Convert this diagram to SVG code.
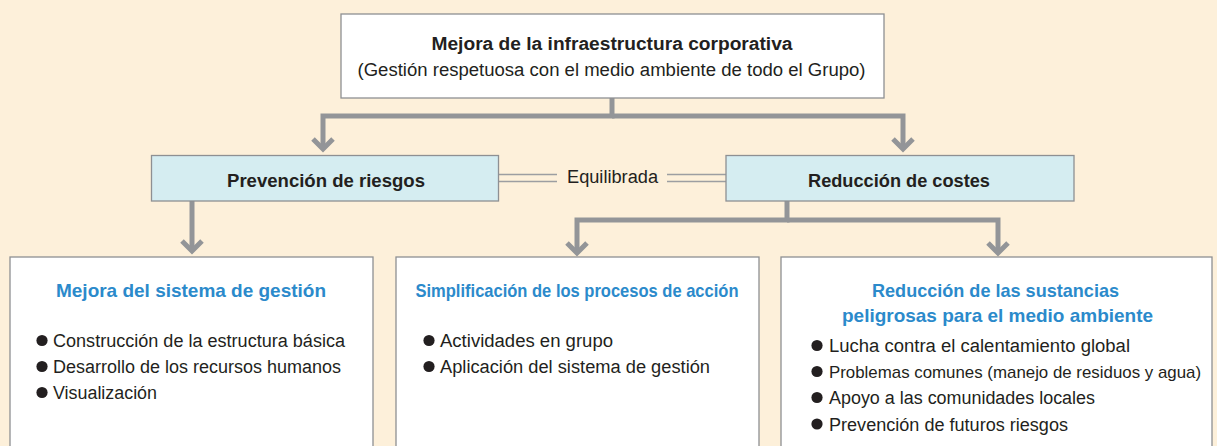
<svg xmlns="http://www.w3.org/2000/svg" width="1217" height="446" viewBox="0 0 1217 446">
<style>
.box{fill:#ffffff;stroke:#8e9093;stroke-width:1.3}
.mid{fill:#d5edf1;stroke:#8e9093;stroke-width:1.3}
.t{font-family:"Liberation Sans",Arial,sans-serif;font-size:18px;fill:#231f20}
.b{font-weight:bold}
.ttl{font-family:"Liberation Sans",Arial,sans-serif;font-size:19px;font-weight:bold;fill:#2b8acb}
.c{text-anchor:middle}
.dot{fill:#231f20}
.conn{fill:none;stroke:#939598;stroke-width:5;stroke-linejoin:miter}
.dbl{stroke:#9c9ea1;stroke-width:1.5}
</style>
<defs>
<marker id="chev" markerUnits="userSpaceOnUse" viewBox="-20 -20 30 40" markerWidth="30" markerHeight="40" refX="0" refY="0" orient="auto">
<path d="M-10,-10 L0,0 L-10,10" fill="none" stroke="#939598" stroke-width="5" stroke-linejoin="miter"/>
</marker>
</defs>
<rect x="0" y="0" width="1217" height="446" fill="#fdf0da"/>
<g id="connectors">
<path class="conn" d="M612,98 V116 H323 V149" marker-end="url(#chev)"/>
<path class="conn" d="M612,116 H903 V149" marker-end="url(#chev)"/>
<path class="conn" d="M192,201 V251" marker-end="url(#chev)"/>
<path class="conn" d="M787,201 V220 H577 V253" marker-end="url(#chev)"/>
<path class="conn" d="M787,220 H998 V253" marker-end="url(#chev)"/>
<line class="dbl" x1="499" y1="174.5" x2="557" y2="174.5"/>
<line class="dbl" x1="499" y1="181.5" x2="557" y2="181.5"/>
<line class="dbl" x1="667" y1="174.5" x2="726" y2="174.5"/>
<line class="dbl" x1="667" y1="181.5" x2="726" y2="181.5"/>
<text class="t" x="567" y="183" textLength="91" lengthAdjust="spacingAndGlyphs">Equilibrada</text>
</g>
<g id="node-top">
<rect class="box" x="341" y="14" width="543" height="84"/>
<text class="t b c" x="612" y="50" textLength="361" lengthAdjust="spacingAndGlyphs">Mejora de la infraestructura corporativa</text>
<text class="t c" x="611.5" y="76" textLength="508" lengthAdjust="spacingAndGlyphs">(Gestión respetuosa con el medio ambiente de todo el Grupo)</text>
</g>
<g id="node-prevencion">
<rect class="mid" x="151.5" y="155.5" width="347" height="45.5"/>
<text class="t b c" x="326" y="186.5" textLength="198" lengthAdjust="spacingAndGlyphs">Prevención de riesgos</text>
</g>
<g id="node-reduccion">
<rect class="mid" x="726" y="155.5" width="348" height="45.5"/>
<text class="t b c" x="899" y="186.5" textLength="182" lengthAdjust="spacingAndGlyphs">Reducción de costes</text>
</g>
<g id="node-gestion">
<rect class="box" x="10" y="257" width="363" height="200"/>
<text class="ttl c" x="191" y="297" textLength="270" lengthAdjust="spacingAndGlyphs">Mejora del sistema de gestión</text>
<circle class="dot" cx="42" cy="340.5" r="5.6"/>
<text class="t" x="53" y="347" textLength="292" lengthAdjust="spacingAndGlyphs">Construcción de la estructura básica</text>
<circle class="dot" cx="42" cy="366.5" r="5.6"/>
<text class="t" x="53" y="373" textLength="288" lengthAdjust="spacingAndGlyphs">Desarrollo de los recursos humanos</text>
<circle class="dot" cx="42" cy="392.5" r="5.6"/>
<text class="t" x="53" y="399" textLength="104" lengthAdjust="spacingAndGlyphs">Visualización</text>
</g>
<g id="node-simplificacion">
<rect class="box" x="396" y="257" width="363" height="200"/>
<text class="ttl c" x="577" y="297" textLength="323" lengthAdjust="spacingAndGlyphs">Simplificación de los procesos de acción</text>
<circle class="dot" cx="429" cy="340.5" r="5.6"/>
<text class="t" x="440" y="347" textLength="173" lengthAdjust="spacingAndGlyphs">Actividades en grupo</text>
<circle class="dot" cx="429" cy="366.5" r="5.6"/>
<text class="t" x="440" y="373" textLength="270" lengthAdjust="spacingAndGlyphs">Aplicación del sistema de gestión</text>
</g>
<g id="node-sustancias">
<rect class="box" x="781" y="257" width="431" height="200"/>
<text class="ttl c" x="995.5" y="297" textLength="247" lengthAdjust="spacingAndGlyphs">Reducción de las sustancias</text>
<text class="ttl c" x="997.5" y="322" textLength="311" lengthAdjust="spacingAndGlyphs">peligrosas para el medio ambiente</text>
<circle class="dot" cx="817" cy="345.5" r="5.6"/>
<text class="t" x="829" y="352" textLength="301" lengthAdjust="spacingAndGlyphs">Lucha contra el calentamiento global</text>
<circle class="dot" cx="817" cy="371.5" r="5.6"/>
<text class="t" x="829" y="378" font-size="17" style="font-size:17px" textLength="372" lengthAdjust="spacingAndGlyphs">Problemas comunes (manejo de residuos y agua)</text>
<circle class="dot" cx="817" cy="397.5" r="5.6"/>
<text class="t" x="829" y="404" textLength="266" lengthAdjust="spacingAndGlyphs">Apoyo a las comunidades locales</text>
<circle class="dot" cx="817" cy="424" r="5.6"/>
<text class="t" x="829" y="430.5" textLength="239" lengthAdjust="spacingAndGlyphs">Prevención de futuros riesgos</text>
</g>
</svg>
